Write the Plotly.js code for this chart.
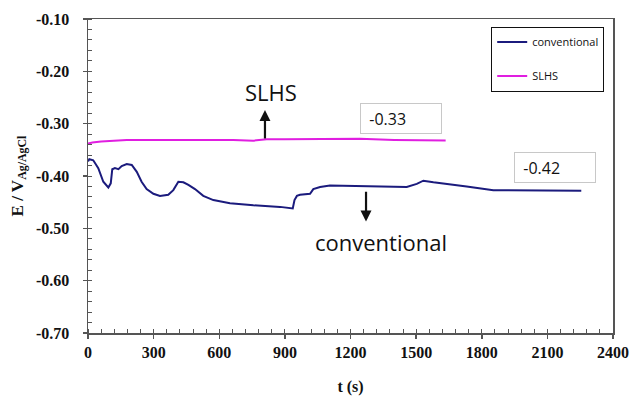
<!DOCTYPE html>
<html>
<head>
<meta charset="utf-8">
<script src="https://cdn.plot.ly/plotly-3.0.1.min.js"></script>
<style>html,body{margin:0;padding:0;background:#fff;} #chart{width:632px;height:396px;}</style>
</head>
<body>
<div id="chart"></div>
<script>
// Conventional coating potential vs time
const tConv = [0, 6, 24, 47, 70, 93, 104, 111, 123, 139, 154, 177, 200, 223, 245, 268, 299, 329, 367, 390, 413, 436, 459, 489, 527, 573, 649, 756, 878, 936, 944, 955, 969, 1015, 1030, 1061, 1106, 1198, 1259, 1350, 1457, 1503, 1533, 1579, 1640, 1731, 1853, 2036, 2255];
const eConv = [-0.372, -0.368, -0.370, -0.385, -0.411, -0.422, -0.414, -0.387, -0.385, -0.387, -0.381, -0.377, -0.379, -0.392, -0.411, -0.425, -0.434, -0.438, -0.436, -0.427, -0.411, -0.412, -0.417, -0.425, -0.438, -0.446, -0.452, -0.456, -0.459, -0.462, -0.446, -0.438, -0.436, -0.434, -0.425, -0.421, -0.418, -0.419, -0.420, -0.421, -0.421, -0.415, -0.409, -0.412, -0.415, -0.420, -0.427, -0.428, -0.428];
// SLHS coating potential vs time
const tSlhs = [0, 20, 60, 116, 177, 300, 500, 664, 756, 817, 900, 1061, 1243, 1400, 1500, 1635];
const eSlhs = [-0.338, -0.336, -0.334, -0.3325, -0.331, -0.331, -0.331, -0.331, -0.3325, -0.330, -0.330, -0.329, -0.329, -0.331, -0.331, -0.332];
const seriesNames = ['conventional', 'SLHS'];
const xTicks = [0, 300, 600, 900, 1200, 1500, 1800, 2100, 2400];
const yTicks = [-0.70, -0.60, -0.50, -0.40, -0.30, -0.20, -0.10];
// annotation values
const finalLabels = ['-0.33', '-0.42'];

const serif = 'Liberation Serif, Times New Roman, serif';
const sans = 'Open Sans, Segoe UI, sans-serif';

const traces = [
  {x: tConv, y: eConv, name: seriesNames[0], mode: 'lines', legendgroup: 'a',
   line: {color: '#1b1b7d', width: 2}},
  {x: tSlhs, y: eSlhs, name: seriesNames[1], mode: 'lines', legendgroup: 'b',
   line: {color: '#e01ee0', width: 2}}
];

const layout = {
  width: 632, height: 396,
  margin: {l: 88, r: 19, t: 19, b: 63},
  paper_bgcolor: '#fff', plot_bgcolor: '#fff',
  showlegend: true,
  legend: {x: 0.768, y: 0.976, xanchor: 'left', yanchor: 'top',
    bordercolor: '#111', borderwidth: 1, bgcolor: '#fff',
    font: {family: sans, size: 11, color: '#111'},
    traceorder: 'grouped', tracegroupgap: 15, itemwidth: 30},
  xaxis: {
    range: [0, 2400], tickvals: xTicks, ticktext: xTicks.map(String),
    showline: true, linecolor: '#555', linewidth: 1.5, mirror: true,
    showgrid: false, zeroline: false,
    ticks: 'outside', ticklen: 4, tickcolor: '#555', tickwidth: 1.5,
    minor: {dtick: 60, tick0: 0, ticks: 'inside', ticklen: 4, tickcolor: '#555', tickwidth: 1},
    tickfont: {family: serif, size: 16, weight: 'bold', color: '#111'},
    title: {text: 't (s)', font: {family: serif, size: 16, weight: 'bold', color: '#111'}, standoff: 21}
  },
  yaxis: {
    range: [-0.70, -0.10], tickvals: yTicks, ticktext: yTicks.map(v => v.toFixed(2)),
    showline: true, linecolor: '#555', linewidth: 1.5, mirror: true,
    showgrid: false, zeroline: false,
    ticks: 'outside', ticklen: 4, tickcolor: '#555', tickwidth: 1.5,
    minor: {dtick: 0.02, tick0: -0.7, ticks: 'inside', ticklen: 4, tickcolor: '#555', tickwidth: 1},
    tickfont: {family: serif, size: 16, weight: 'bold', color: '#111'},
    ticklabelstandoff: 10,
    title: {text: 'E / V<sub>Ag/AgCl</sub>', font: {family: serif, size: 17, weight: 'bold', color: '#111'}, standoff: 8}
  },
  annotations: [
    {x: 837, y: -0.239, xref: 'x', yref: 'y', text: 'SLHS', showarrow: false,
     font: {family: sans, size: 22, color: '#111'}},
    {x: 809, y: -0.274, xref: 'x', yref: 'y', ax: 809, ay: -0.331, axref: 'x', ayref: 'y',
     text: '', showarrow: true, arrowhead: 2, arrowsize: 1, arrowwidth: 2.2, arrowcolor: '#111'},
    {x: 1339, y: -0.526, xref: 'x', yref: 'y', text: 'conventional', showarrow: false,
     font: {family: sans, size: 22, color: '#111'}},
    {x: 1271, y: -0.487, xref: 'x', yref: 'y', ax: 1271, ay: -0.427, axref: 'x', ayref: 'y',
     text: '', showarrow: true, arrowhead: 2, arrowsize: 1, arrowwidth: 2.2, arrowcolor: '#111'},
    {x: 1429, y: -0.291, xref: 'x', yref: 'y', text: '\u00a0\u00a0' + finalLabels[0], showarrow: false,
     width: 80, height: 29, align: 'left', bordercolor: '#c8c8c8', borderwidth: 1, borderpad: 0, bgcolor: '#fff',
     font: {family: sans, size: 16, color: '#111'}},
    {x: 2137, y: -0.384, xref: 'x', yref: 'y', text: '\u00a0\u00a0' + finalLabels[1], showarrow: false,
     width: 80, height: 29, align: 'left', bordercolor: '#c8c8c8', borderwidth: 1, borderpad: 0, bgcolor: '#fff',
     font: {family: sans, size: 16, color: '#111'}}
  ]
};

Plotly.newPlot('chart', traces, layout, {staticPlot: true, displayModeBar: false});
</script>
</body>
</html>
